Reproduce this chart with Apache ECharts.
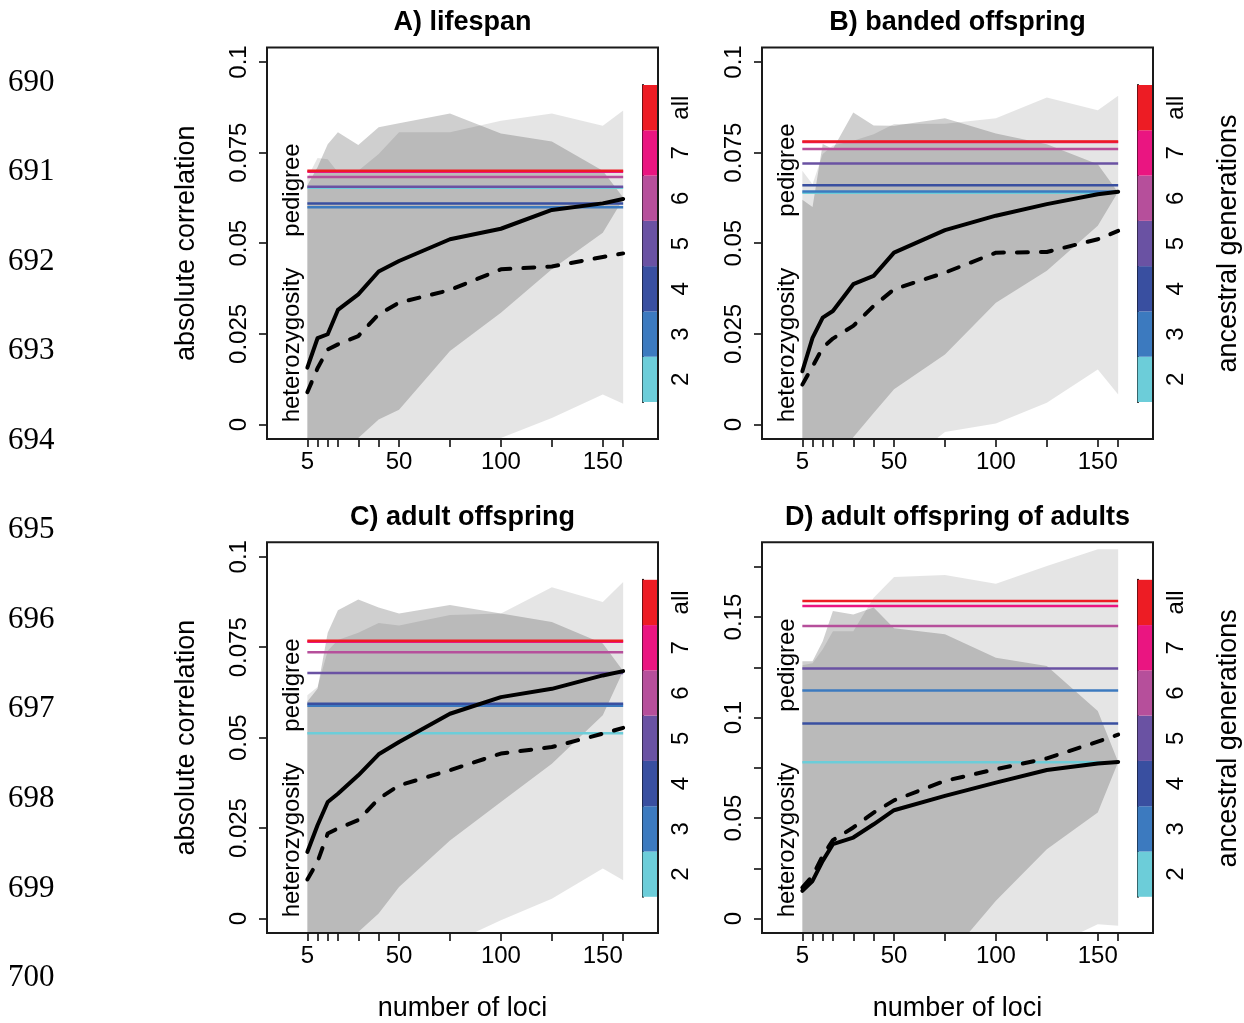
<!DOCTYPE html>
<html>
<head>
<meta charset="utf-8">
<script src="https://cdn.jsdelivr.net/npm/echarts@6/dist/echarts.min.js"></script>
<style>
html,body{margin:0;padding:0;background:#fff;}
#chart{width:1244px;height:1023px;}
</style>
</head>
<body>
<div id="chart"></div>
<script>
// ---------- shared data ----------
const lociValues = [5, 10, 15, 20, 30, 40, 50, 75, 100, 125, 150, 160];
const xTickValues = [5, 10, 15, 20, 30, 40, 50, 75, 100, 125, 150, 160];
const xTickLabels = [5, 50, 100, 150];
const yTickValuesSmall = [0, 0.025, 0.05, 0.075, 0.1];
const yTickLabelsSmall = [0, 0.025, 0.05, 0.075, 0.1];
const yTickValuesLarge = [0, 0.025, 0.05, 0.075, 0.1, 0.125, 0.15, 0.175];
const yTickLabelsLarge = [0, 0.05, 0.1, 0.15];
const generationLabels = ['2', '3', '4', '5', '6', '7', 'all'];
const generationColors = ['#6ccdd9', '#3c7abf', '#394fa0', '#6a52a3', '#b64f9b', '#ea1581', '#ed1c24'];
const panelTitles = ['A) lifespan', 'B) banded offspring', 'C) adult offspring', 'D) adult offspring of adults'];
const lineNumbers = ['690', '691', '692', '693', '694', '695', '696', '697', '698', '699', '700'];

// ---------- A) lifespan ----------
const lifespanSolid  = [0.0157, 0.0238, 0.0249, 0.0316, 0.0359, 0.0422, 0.0451, 0.0511, 0.0540, 0.0592, 0.0610, 0.0622];
const lifespanDashed = [0.0089, 0.0155, 0.0207, 0.0221, 0.0244, 0.0304, 0.0336, 0.0371, 0.0428, 0.0436, 0.0462, 0.0472];
const lifespanPedigree = [0.0653, 0.0599, 0.0610, 0.0656, 0.0683, 0.0697, 0.0700];
const lifespanLightUpper = [0.068, 0.0735, 0.0732, 0.0696, 0.070, 0.0746, 0.0806, 0.0806, 0.0838, 0.0858, 0.0824, 0.0866];
const lifespanLightLower = [-0.03, -0.03, -0.03, -0.03, -0.03, -0.03, -0.025, -0.02, -0.0037, 0.0018, 0.0083, 0.0057];
const lifespanMidUpper = [0.066, 0.071, 0.0773, 0.0806, 0.0771, 0.082, 0.0831, 0.0858, 0.0803, 0.0781, 0.070, 0.0626];
const lifespanMidLower = [-0.03, -0.03, -0.025, -0.015, -0.0037, 0.0014, 0.0041, 0.0203, 0.0308, 0.0428, 0.0529, 0.0622];

// ---------- B) banded offspring ----------
const bandedSolid  = [0.0147, 0.0239, 0.0295, 0.0313, 0.0387, 0.0410, 0.0474, 0.0536, 0.0576, 0.0608, 0.0635, 0.0642];
const bandedDashed = [0.0110, 0.0160, 0.0212, 0.0237, 0.0272, 0.0327, 0.0373, 0.0419, 0.0474, 0.0476, 0.0511, 0.0534];
const bandedPedigree = [0.0639, 0.0643, 0.0660, 0.0720, 0.0760, 0.0779, 0.0781];
const bandedLightUpper = [0.070, 0.0663, 0.0746, 0.0770, 0.0783, 0.0801, 0.0829, 0.0830, 0.0845, 0.0902, 0.0867, 0.0907];
const bandedLightLower = [-0.03, -0.03, -0.03, -0.03, -0.03, -0.025, -0.013, -0.0021, 0.0003, 0.0060, 0.0152, 0.0083];
const bandedMidUpper = [0.062, 0.060, 0.0774, 0.0760, 0.0861, 0.0825, 0.0824, 0.0845, 0.0803, 0.0773, 0.0718, 0.0640];
const bandedMidLower = [-0.03, -0.03, -0.025, -0.015, -0.0035, 0.0032, 0.0097, 0.0193, 0.0336, 0.0424, 0.0548, 0.0642];

// ---------- C) adult offspring ----------
const adultSolid  = [0.0184, 0.0258, 0.0322, 0.0345, 0.0396, 0.0454, 0.0488, 0.0566, 0.0612, 0.0635, 0.0672, 0.0684];
const adultDashed = [0.0108, 0.0157, 0.0235, 0.0249, 0.0272, 0.0331, 0.0368, 0.0410, 0.0456, 0.0474, 0.0511, 0.0527];
const adultPedigree = [0.0512, 0.0588, 0.0594, 0.0679, 0.0736, 0.0765, 0.0768];
const adultLightUpper = [0.0617, 0.0640, 0.0740, 0.0770, 0.0790, 0.0817, 0.0810, 0.0839, 0.0843, 0.0916, 0.0875, 0.0930];
const adultLightLower = [-0.03, -0.03, -0.03, -0.03, -0.03, -0.03, -0.02, -0.007, -0.0005, 0.0055, 0.0138, 0.0106];
const adultMidUpper = [0.0600, 0.0635, 0.0790, 0.0852, 0.0882, 0.0860, 0.0843, 0.0867, 0.0843, 0.0820, 0.0760, 0.0684];
const adultMidLower = [-0.03, -0.03, -0.025, -0.015, -0.0037, 0.0014, 0.0087, 0.0216, 0.0322, 0.0428, 0.0562, 0.0684];

// ---------- D) adult offspring of adults ----------
const adultOfAdultsSolid  = [0.0138, 0.0187, 0.0287, 0.0370, 0.0403, 0.0469, 0.0539, 0.0610, 0.0676, 0.0739, 0.0771, 0.0779];
const adultOfAdultsDashed = [0.0154, 0.0212, 0.0312, 0.0390, 0.0453, 0.0527, 0.0588, 0.0685, 0.0743, 0.0797, 0.0880, 0.0915];
const adultOfAdultsPedigree = [0.0778, 0.1135, 0.0971, 0.1244, 0.1455, 0.1555, 0.1580];
const adultOfAdultsLightUpper = [0.126, 0.127, 0.134, 0.143, 0.143, 0.1596, 0.1699, 0.1709, 0.1666, 0.1754, 0.1837, 0.1837];
const adultOfAdultsLightLower = [-0.03, -0.03, -0.03, -0.03, -0.03, -0.03, -0.03, -0.03, -0.03, -0.015, -0.0028, -0.0036];
const adultOfAdultsMidUpper = [0.128, 0.128, 0.138, 0.153, 0.1513, 0.1547, 0.1444, 0.1414, 0.1298, 0.1256, 0.1033, 0.0779];
const adultOfAdultsMidLower = [-0.05, -0.05, -0.05, -0.05, -0.05, -0.05, -0.04, -0.021, 0.0088, 0.0345, 0.0527, 0.0779];

// ---------- layout ----------
const FONT = 'Liberation Sans, Arial, sans-serif';
const panels = [
  {gx: 267, gy: 47.5, yMin: -0.004, yMax: 0.104, yTicks: yTickValuesSmall, yLabels: yTickLabelsSmall,
   solid: lifespanSolid, dashed: lifespanDashed, ped: lifespanPedigree,
   lu: lifespanLightUpper, ll: lifespanLightLower, mu: lifespanMidUpper, ml: lifespanMidLower,
   pedY: 190, hetY: 345, txtX: 292},
  {gx: 762, gy: 47.5, yMin: -0.004, yMax: 0.104, yTicks: yTickValuesSmall, yLabels: yTickLabelsSmall,
   solid: bandedSolid, dashed: bandedDashed, ped: bandedPedigree,
   lu: bandedLightUpper, ll: bandedLightLower, mu: bandedMidUpper, ml: bandedMidLower,
   pedY: 170, hetY: 345, txtX: 787},
  {gx: 267, gy: 542.3, yMin: -0.004, yMax: 0.104, yTicks: yTickValuesSmall, yLabels: yTickLabelsSmall,
   solid: adultSolid, dashed: adultDashed, ped: adultPedigree,
   lu: adultLightUpper, ll: adultLightLower, mu: adultMidUpper, ml: adultMidLower,
   pedY: 685, hetY: 840, txtX: 292},
  {gx: 762, gy: 542.3, yMin: -0.0072, yMax: 0.1872, yTicks: yTickValuesLarge, yLabels: yTickLabelsLarge,
   solid: adultOfAdultsSolid, dashed: adultOfAdultsDashed, ped: adultOfAdultsPedigree,
   lu: adultOfAdultsLightUpper, ll: adultOfAdultsLightLower, mu: adultOfAdultsMidUpper, ml: adultOfAdultsMidLower,
   pedY: 665, hetY: 840, txtX: 787}
];
const GW = 391, GH = 391.5;
const CB_W = 15.5, CB_TOP = 37.5, CB_H = 317;

function bandSeries(idx, upper, lower, color) {
  const data = lociValues.map((x, k) => [x, lower[k], upper[k]]);
  return {
    type: 'custom', xAxisIndex: idx, yAxisIndex: idx, data: data,
    encode: {x: 0, y: [1, 2]}, silent: true, z: 1, clip: true,
    renderItem: function (params, api) {
      if (params.dataIndex !== 0) return null;
      const pts = [];
      for (let k = 0; k < data.length; k++) pts.push(api.coord([data[k][0], data[k][2]]));
      for (let k = data.length - 1; k >= 0; k--) pts.push(api.coord([data[k][0], data[k][1]]));
      const cs = params.coordSys;
      return {
        type: 'polygon', shape: {points: pts}, style: {fill: color, stroke: null},
        clipPath: {type: 'rect', shape: {x: cs.x, y: cs.y, width: cs.width, height: cs.height}}
      };
    }
  };
}

const grids = [], xAxes = [], yAxes = [], series = [], elements = [];

panels.forEach((p, i) => {
  grids.push({left: p.gx, top: p.gy, width: GW, height: GH, show: true, z: 10,
    borderColor: '#1a1a1a', borderWidth: 2, backgroundColor: 'transparent', containLabel: false});
  xAxes.push({
    gridIndex: i, type: 'value', min: -14.8, max: 177.1,
    axisLine: {show: false, onZero: false}, splitLine: {show: false},
    axisTick: {show: true, length: 8, lineStyle: {color: '#000', width: 1.5}, customValues: xTickValues},
    axisLabel: {customValues: xTickLabels, fontSize: 24, color: '#000', margin: 11, fontFamily: FONT,
      formatter: v => String(v)},
    name: i >= 2 ? 'number of loci' : '', nameLocation: 'middle', nameGap: 62,
    nameTextStyle: {fontSize: 27, color: '#000', fontFamily: FONT}
  });
  yAxes.push({
    gridIndex: i, type: 'value', min: p.yMin, max: p.yMax,
    axisLine: {show: false, onZero: false}, splitLine: {show: false},
    axisTick: {show: true, length: 8, lineStyle: {color: '#000', width: 1.5}, customValues: p.yTicks},
    axisLabel: {customValues: p.yLabels, rotate: 90, fontSize: 24, color: '#000', margin: 16, fontFamily: FONT,
      formatter: v => String(v)},
    name: i % 2 === 0 ? 'absolute correlation' : '', nameLocation: 'middle', nameGap: 67,
    nameTextStyle: {fontSize: 27, color: '#000', fontFamily: FONT}
  });

  series.push(bandSeries(i, p.lu, p.ll, 'rgba(0,0,0,0.10)'));
  series.push(bandSeries(i, p.mu, p.ml, 'rgba(0,0,0,0.19)'));

  p.ped.forEach((v, k) => {
    series.push({type: 'line', xAxisIndex: i, yAxisIndex: i, data: [[lociValues[0], v], [lociValues[lociValues.length - 1], v]],
      symbol: 'none', silent: true, z: 3, lineStyle: {color: generationColors[k], width: 2.5}});
  });

  series.push({type: 'line', xAxisIndex: i, yAxisIndex: i, data: lociValues.map((x, k) => [x, p.solid[k]]),
    symbol: 'none', silent: true, z: 4, lineStyle: {color: '#000', width: 4, cap: 'round', join: 'round'}});
  series.push({type: 'line', xAxisIndex: i, yAxisIndex: i, data: lociValues.map((x, k) => [x, p.dashed[k]]),
    symbol: 'none', silent: true, z: 4, lineStyle: {color: '#000', width: 4, type: [11, 13], cap: 'round', join: 'round'}});

  // title and in-plot labels
  elements.push({type: 'text', x: p.gx + GW / 2, y: p.gy - 24.5,
    style: {text: panelTitles[i], font: 'bold 27px ' + FONT, fill: '#000', textAlign: 'center', textVerticalAlign: 'middle', verticalAlign: 'middle'}});
  elements.push({type: 'text', x: p.txtX, y: p.pedY, rotation: Math.PI / 2,
    style: {text: 'pedigree', font: '24px ' + FONT, fill: '#000', textAlign: 'center', textVerticalAlign: 'middle', verticalAlign: 'middle'}});
  elements.push({type: 'text', x: p.txtX, y: p.hetY, rotation: Math.PI / 2,
    style: {text: 'heterozygosity', font: '24px ' + FONT, fill: '#000', textAlign: 'center', textVerticalAlign: 'middle', verticalAlign: 'middle'}});
});

// colour bars
panels.forEach((p, i) => {
  const gi = 4 + i;
  grids.push({left: p.gx + GW - CB_W, top: p.gy + CB_TOP, width: CB_W, height: CB_H, show: false});
  xAxes.push({gridIndex: gi, type: 'value', min: 0, max: 1, show: false});
  yAxes.push({
    gridIndex: gi, type: 'category', data: generationLabels, position: 'right',
    axisLine: {show: true, lineStyle: {color: '#000', width: 2}},
    axisTick: {show: true, alignWithLabel: true, length: 8, lineStyle: {color: '#000', width: 1.5}},
    axisLabel: {rotate: 90, fontSize: 24, color: '#000', margin: 11, fontFamily: FONT},
    splitLine: {show: false},
    name: i % 2 === 1 ? 'ancestral generations' : '', nameLocation: 'middle', nameGap: 62,
    nameTextStyle: {fontSize: 27, color: '#000', fontFamily: FONT}
  });
  series.push({type: 'bar', xAxisIndex: gi, yAxisIndex: gi, silent: true, barWidth: '100%', barCategoryGap: '0%',
    data: generationColors.map(c => ({value: 1, itemStyle: {color: c}}))});
});

lineNumbers.forEach((t, k) => {
  elements.push({type: 'text', x: 8, y: 82.5 + 89.55 * k,
    style: {text: t, font: '31px Liberation Serif, Times New Roman, serif', fill: '#000', textAlign: 'left', textVerticalAlign: 'middle', verticalAlign: 'middle'}});
});

const chart = echarts.init(document.getElementById('chart'), null, {renderer: 'canvas'});
chart.setOption({
  animation: false,
  backgroundColor: '#ffffff',
  grid: grids, xAxis: xAxes, yAxis: yAxes, series: series,
  graphic: {elements: elements}
});
</script>
</body>
</html>
